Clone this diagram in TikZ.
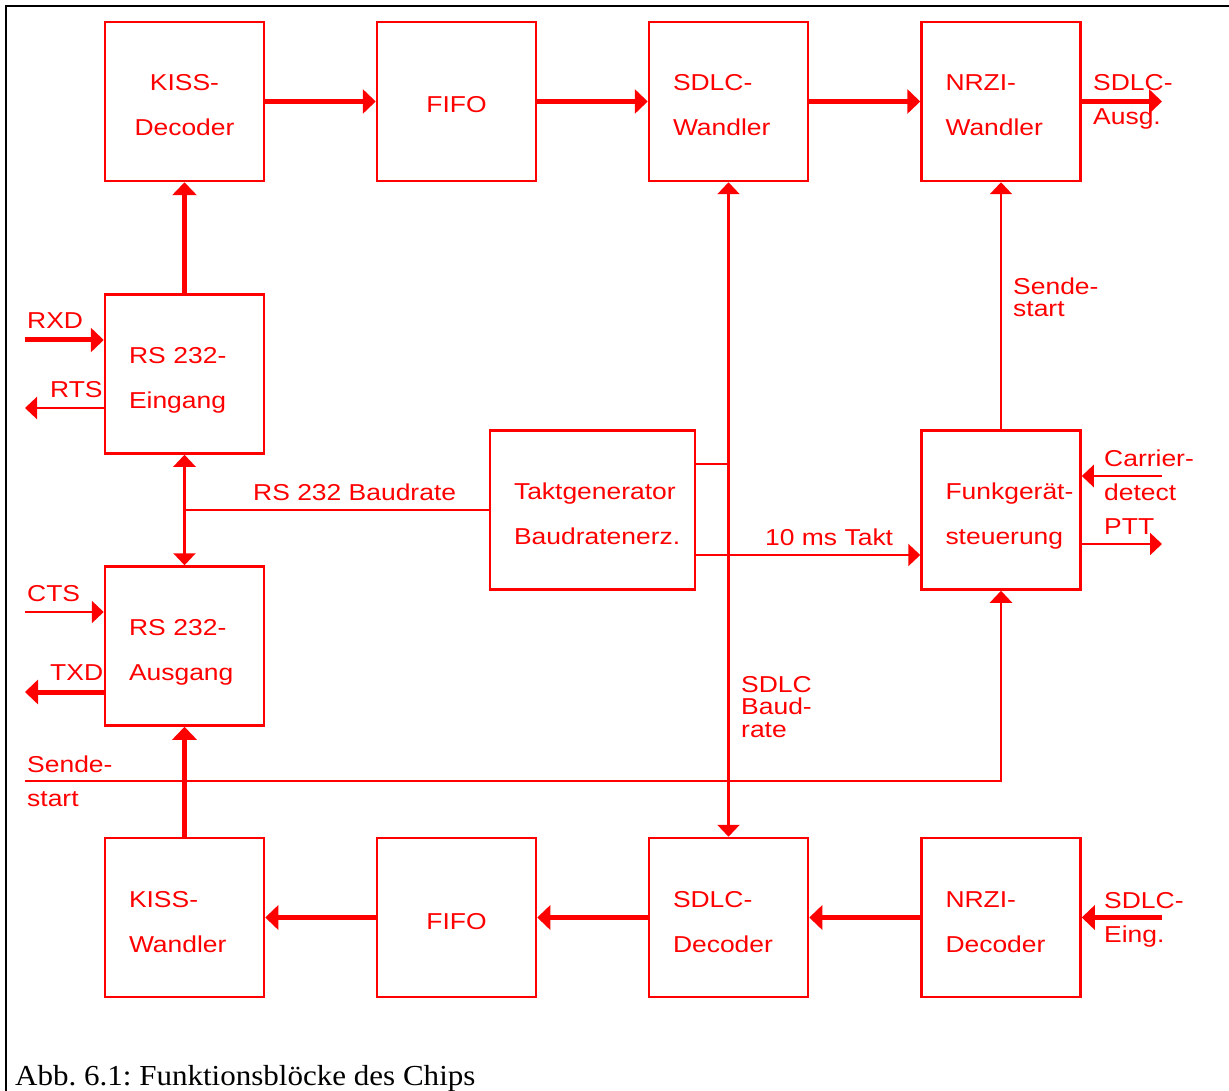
\documentclass[tikz,border=0pt]{standalone}
\usepackage{fontspec}
\setmainfont{Liberation Serif}
\newfontfamily\blkfont[FakeStretch=1.15]{Liberation Sans}
\newfontfamily\capfont[FakeStretch=1.07]{Liberation Serif}
\usepackage{tikz}
\usetikzlibrary{arrows.meta}
\definecolor{chipred}{HTML}{FF0000}

\begin{document}
\begin{tikzpicture}[x=1pt,y=-1pt,
  blk/.style={draw=chipred,line width=2.5pt,text=chipred,minimum width=159pt,minimum height=159pt,
    text width=111pt,inner xsep=24pt,inner ysep=0pt,align=left,text height=17pt,text depth=38pt,
    font=\blkfont\fontsize{23}{45}\selectfont},
  lbl/.style={text=chipred,anchor=base west,inner sep=0pt,align=left,font=\blkfont\fontsize{23}{34}\selectfont},
  wire/.style={draw=chipred,line width=2.5pt},
  sig/.style={wire,-{Triangle[length=12pt,width=22pt]}},
  bus/.style={draw=chipred,line width=5pt,-{Triangle[length=13pt,width=24pt]}}]
  \useasboundingbox (0,0) rectangle (1229,1091);
  \draw[line width=1.8pt] (6,1091) -- (6,6) -- (1229,6);

  % blocks
  \node[blk,align=center] (kissd) at (184.5,101.5) {KISS-\\Decoder};
  \node[blk,align=center,text height=23pt,text depth=0pt] (fifoo) at (456.5,101.5) {FIFO};
  \node[blk] (sdlcw) at (728.5,101.5) {SDLC-\\Wandler};
  \node[blk] (nrziw) at (1001,101.5) {NRZI-\\Wandler};
  \node[blk] (rsin) at (184.5,374) {RS 232-\\Eingang};
  \node[blk] (rsout) at (184.5,646) {RS 232-\\Ausgang};
  \node[blk,minimum width=205pt,text width=157pt] (takt) at (592.5,510) {\mbox{Taktgenerator}\\\mbox{Baudratenerz.}};
  \node[blk] (funk) at (1001,510) {\mbox{Funkgerät-}\\steuerung};
  \node[blk] (kissw) at (184.5,917.5) {KISS-\\Wandler};
  \node[blk,align=center,text height=23pt,text depth=0pt] (fifou) at (456.5,917.5) {FIFO};
  \node[blk] (sdlcd) at (728.5,917.5) {SDLC-\\Decoder};
  \node[blk] (nrzid) at (1001,917.5) {NRZI-\\Decoder};

  % free ends
  \coordinate (ausg) at (1162,101.5);
  \coordinate (rxd) at (25,340);
  \coordinate (rts) at (25,408);
  \coordinate (cts) at (25,612);
  \coordinate (txd) at (25,692);
  \coordinate (send) at (25,781);
  \coordinate (carr) at (1162,476);
  \coordinate (ptt) at (1162,544);
  \coordinate (eing) at (1162,917.5);
  \coordinate (bdr) at (0,464);
  \coordinate (tkt) at (0,555);

  % data path
  \draw[bus] (kissd.east) -- (fifoo.west);
  \draw[bus] (fifoo.east) -- (sdlcw.west);
  \draw[bus] (sdlcw.east) -- (nrziw.west);
  \draw[bus] (nrziw.east) -- (ausg);
  \draw[bus] (rsin.north) -- (kissd.south);
  \draw[bus] (kissw.north) -- (rsout.south);
  \draw[bus] (eing) -- (nrzid.east);
  \draw[bus] (nrzid.west) -- (sdlcd.east);
  \draw[bus] (sdlcd.west) -- (fifou.east);
  \draw[bus] (fifou.west) -- (kissw.east);
  \draw[bus] (rxd) -- (rxd -| rsin.west);
  \draw[bus] (txd -| rsout.west) -- (txd);

  % control lines
  \draw[sig] (rts -| rsin.west) -- (rts);
  \draw[sig] (cts) -- (cts -| rsout.west);
  \draw[sig,{Triangle[length=12pt,width=22pt]}-{Triangle[length=12pt,width=22pt]}] (rsin.south) -- (rsout.north);
  \draw[wire] (takt.west) -- (takt.west -| rsin.south);
  \draw[sig,{Triangle[length=12pt,width=22pt]}-{Triangle[length=12pt,width=22pt]}] (sdlcw.south) -- (sdlcd.north);
  \draw[wire] (takt.east |- bdr) -- (sdlcw.south |- bdr);
  \draw[sig] (takt.east |- tkt) -- (funk.west |- tkt);
  \draw[sig] (funk.north) -- (nrziw.south);
  \draw[sig] (send) -| (funk.south);
  \draw[sig] (carr) -- (carr -| funk.east);
  \draw[sig] (ptt -| funk.east) -- (ptt);

  % labels
  \node[lbl] (lrxd) at (27,329) {RXD};
  \node[lbl] (lrts) at (50,397) {RTS};
  \node[lbl] (lcts) at (27,601) {CTS};
  \node[lbl] (ltxd) at (50,680) {TXD};
  \node[lbl] (lsend) at (27,806) {Sende-\\start};
  \node[lbl] (lbaud) at (253,500) {RS 232 Baudrate};
  \node[lbl] (ltakt) at (765,545) {10 ms Takt};
  \node[lbl,font=\blkfont\fontsize{23}{22.5}\selectfont] (lsdlc) at (741,737) {SDLC\\Baud-\\rate};
  \node[lbl,font=\blkfont\fontsize{23}{22}\selectfont] (lstart) at (1013,317) {Sende-\\start};
  \node[lbl] (lausg) at (1093,125) {SDLC-\\Ausg.};
  \node[lbl] (lcarr) at (1104,500) {Carrier-\\detect};
  \node[lbl] (lptt) at (1104,534) {PTT};
  \node[lbl] (leing) at (1104,942) {SDLC-\\Eing.};

  \node[anchor=base west,inner sep=0pt,font=\capfont\fontsize{29}{34}\selectfont\frenchspacing] (cap) at (15,1085)
    {Abb. 6.1: Funktionsblöcke des Chips};
\end{tikzpicture}
\end{document}
